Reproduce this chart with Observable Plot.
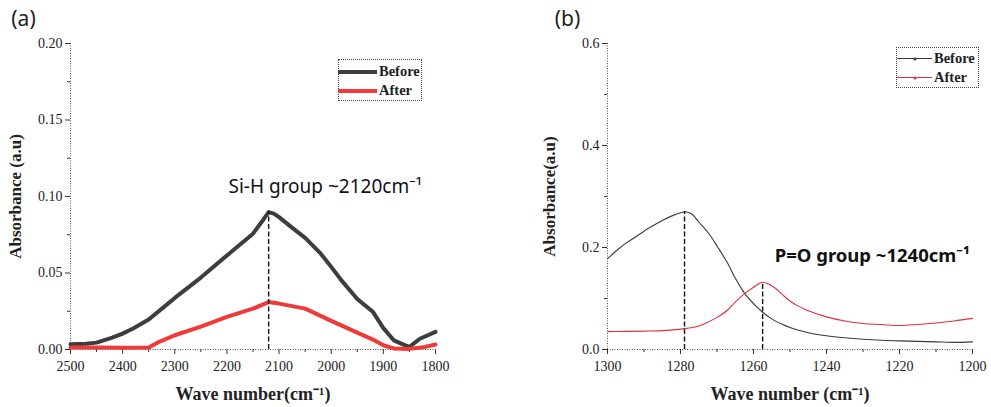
<!DOCTYPE html>
<html><head><meta charset="utf-8">
<script src="https://cdn.jsdelivr.net/npm/d3@7"></script>
<script src="https://cdn.jsdelivr.net/npm/@observablehq/plot@0.6"></script>
<style>
body{margin:0;background:#fff;}
#wrap{position:relative;width:991px;height:407px;overflow:hidden;background:#fff;}
#a{position:absolute;left:0;top:0;}
#b{position:absolute;left:495px;top:0;}
.legend{position:absolute;box-sizing:border-box;border:1px dotted #444;background:#fff;font-family:"Liberation Serif","Times New Roman",serif;font-weight:bold;color:#222;}
.row{position:absolute;left:0;height:19px;display:flex;align-items:center;white-space:nowrap;}
.sw{position:relative;flex:none;}
.dot{position:absolute;width:3px;height:3px;border-radius:50%;left:50%;top:50%;transform:translate(-50%,-50%);}
</style></head>
<body><div id="wrap"><div id="a"></div><div id="b"></div><div id="legA" class="legend"></div><div id="legB" class="legend"></div></div>
<script>
// ---------- Panel (a): Si-H region ----------
const waveA_before = [2500,2470,2450,2420,2400,2380,2350,2320,2300,2250,2200,2150,2130,2120,2110,2100,2080,2050,2020,2000,1980,1950,1920,1900,1880,1860,1850,1830,1800];
const absA_before  = [0.0035,0.0037,0.0045,0.0078,0.0104,0.0137,0.0196,0.028,0.0337,0.047,0.0615,0.0757,0.085,0.0898,0.0888,0.0865,0.081,0.073,0.0626,0.054,0.045,0.033,0.0246,0.014,0.006,0.003,0.0017,0.007,0.0115];
const waveA_after  = [2500,2450,2400,2350,2330,2300,2250,2200,2150,2120,2100,2050,2000,1950,1920,1900,1880,1850,1820,1800];
const absA_after   = [0.0013,0.0013,0.0012,0.0013,0.005,0.0093,0.015,0.0213,0.0267,0.031,0.030,0.0267,0.0187,0.011,0.0065,0.0028,0.0007,0.0004,0.0017,0.0033];
const xTicksA = [2500,2400,2300,2200,2100,2000,1900,1800];
const xMinorA = [2450,2350,2250,2150,2050,1950,1850];
const yTicksA = [0,0.05,0.10,0.15,0.20];
const yMinorA = [0.025,0.075,0.125,0.175];
const dropsA = [{x:2120, y:0.0898}];
const annotA = [{x:2197, y:0.106, text:"Si-H group ~2120cm⁻¹"}];

// ---------- Panel (b): P=O region ----------
const waveB_before = [1300,1297,1295,1292,1290,1287,1285,1282,1280,1279,1277,1275,1272,1270,1267,1265,1263,1262,1260,1257.5,1255,1252,1250,1245,1240,1235,1230,1225,1220,1210,1205,1200];
const absB_before  = [0.178,0.197,0.208,0.222,0.232,0.245,0.253,0.263,0.268,0.270,0.266,0.250,0.225,0.203,0.168,0.140,0.116,0.106,0.090,0.073,0.060,0.049,0.043,0.033,0.027,0.023,0.020,0.018,0.017,0.015,0.014,0.015];
const waveB_after  = [1300,1295,1290,1285,1280,1275,1273,1270,1267,1265,1262,1260,1258,1257.5,1256,1254,1252,1250,1248,1245,1240,1235,1230,1225,1220,1215,1210,1205,1200];
const absB_after   = [0.035,0.0355,0.036,0.037,0.040,0.046,0.052,0.063,0.078,0.093,0.112,0.122,0.131,0.132,0.129,0.120,0.107,0.095,0.086,0.076,0.064,0.056,0.051,0.049,0.047,0.049,0.052,0.056,0.061];
const xTicksB = [1300,1280,1260,1240,1220,1200];
const xMinorB = [1290,1270,1250,1230,1210];
const yTicksB = [0,0.2,0.4,0.6];
const yMinorB = [0.1,0.3,0.5];
const dropsB = [{x:1278.9, y:0.270},{x:1257.5, y:0.132}];
const annotB = [{x:1254.2, y:0.1824, text:"P=O group ~1240cm⁻¹"}];

const seriesNames = ["Before","After"];
const colorsA = ["#3d3d3d","#f03a3a"];
const colorsB = ["#3a3a3a","#e0303e"];

const serif = "'Liberation Serif', 'Times New Roman', serif";
const sans = "Noto Sans, sans-serif";

function zip(w, v){ return w.map((x,i)=>({x, y:v[i]})); }

function panel(o){
  const data = o.series;
  const ax = {label: null, stroke: "#333", tickFormat: () => ""};
  return Plot.plot({
    width: o.width, height: 407,
    marginLeft: o.marginLeft, marginRight: o.marginRight, marginTop: 43, marginBottom: 58,
    style: {background: "white", overflow: "visible"},
    x: {domain: o.xDomain},
    y: {domain: o.yDomain},
    marks: [
      Plot.ruleY([o.yDomain[0]], {stroke: "#555", strokeDasharray: "1,1.5"}),
      Plot.ruleX([o.xDomain[0]], {stroke: "#555", strokeDasharray: "1,1.5"}),
      // tick marks (outward), major and minor
      Plot.axisX({...ax, ticks: o.xMinor, tickSize: 3}),
      Plot.axisX({...ax, ticks: o.xTicks, tickSize: 5}),
      Plot.axisY({...ax, ticks: o.yMinor, tickSize: 3}),
      Plot.axisY({...ax, ticks: o.yTicks, tickSize: 5}),
      // tick labels in serif, placed by the scales
      Plot.text(o.xTicks, {x: d => d, text: d => String(d), frameAnchor: "bottom", dy: 17, textAnchor: "middle", lineAnchor: "middle", fontFamily: serif, fontSize: 14, fill: "#222"}),
      Plot.text(o.yTicks, {y: d => d, text: o.yFormat, frameAnchor: "left", dx: -8, textAnchor: "end", lineAnchor: "middle", fontFamily: serif, fontSize: 14, fill: "#222"}),
      ...data.map((s, i) => Plot.line(s, {x: "x", y: "y", stroke: o.colors[i], strokeWidth: o.sw, curve: o.curve})),
      Plot.ruleX(o.drops, {x: "x", y1: 0, y2: "y", stroke: "#111", strokeWidth: 1.4, strokeDasharray: "5,2.5"}),
      Plot.text(o.annot, {x: "x", y: "y", text: "text", textAnchor: "start", lineAnchor: "middle", fontFamily: sans, fontSize: o.annotSize, fontWeight: o.annotWeight, fill: "#111"}),
      Plot.text([o.xTitle], {text: d => d, frameAnchor: "bottom", dy: 45, textAnchor: "middle", lineAnchor: "middle", fontFamily: serif, fontWeight: "bold", fontSize: 18, fill: "#222"}),
      Plot.text([o.yTitle], {text: d => d, frameAnchor: "left", dx: o.yTitleDx, rotate: -90, textAnchor: "middle", lineAnchor: "middle", fontFamily: serif, fontWeight: "bold", fontSize: 17, fill: "#222"}),
      Plot.text([o.label], {text: d => d, frameAnchor: "top-left", dx: o.labelDx, dy: -24, textAnchor: "middle", lineAnchor: "middle", fontFamily: sans, fontSize: 21, fill: "#222"})
    ]
  });
}

document.getElementById("a").append(panel({
  width: 495, marginLeft: 70, marginRight: 60,
  xDomain: [2500, 1800], yDomain: [0, 0.2],
  xTicks: xTicksA, xMinor: xMinorA, yTicks: yTicksA, yMinor: yMinorA, yFormat: d3.format(".2f"),
  series: [zip(waveA_before, absA_before), zip(waveA_after, absA_after)],
  colors: colorsA, sw: 4, curve: "linear",
  drops: dropsA, annot: annotA, annotWeight: "normal", annotSize: 19,
  xTitle: "Wave number(cm⁻¹)", yTitle: "Absorbance (a.u)", yTitleDx: -55,
  label: "(a)", labelDx: -47
}));

document.getElementById("b").append(panel({
  width: 496, marginLeft: 112, marginRight: 19,
  xDomain: [1300, 1200], yDomain: [0, 0.6],
  xTicks: xTicksB, xMinor: xMinorB, yTicks: yTicksB, yMinor: yMinorB, yFormat: d3.format(".1f"),
  series: [zip(waveB_before, absB_before), zip(waveB_after, absB_after)],
  colors: colorsB, sw: 1.1, curve: "monotone-x",
  drops: dropsB, annot: annotB, annotWeight: "bold", annotSize: 18.5,
  xTitle: "Wave number (cm⁻¹)", yTitle: "Absorbance(a.u)", yTitleDx: -58,
  label: "(b)", labelDx: -40
}));

// ---------- Legends ----------
function legend(id, box, rows, colors, lineW, lineLen, lineLeft, dots, fontSize){
  const el = document.getElementById(id);
  Object.assign(el.style, {left: box[0]+"px", top: box[1]+"px", width: box[2]+"px", height: box[3]+"px", fontSize: fontSize+"px"});
  seriesNames.forEach((n, i) => {
    const r = document.createElement("div");
    r.className = "row";
    r.style.top = (rows[i] - 9.5) + "px";
    const sw = document.createElement("div");
    sw.className = "sw";
    Object.assign(sw.style, {width: lineLen+"px", height: lineW+"px", background: colors[i], marginLeft: lineLeft+"px", marginRight: "2px"});
    if (dots) { const d = document.createElement("div"); d.className = "dot"; d.style.background = colors[i]; sw.append(d); }
    const t = document.createElement("span");
    t.textContent = n;
    r.append(sw, t);
    el.append(r);
  });
}
legend("legA", [338, 59, 84, 42], [11.5, 30.5], colorsA, 4, 39, -1, false, 14.5);
legend("legB", [896, 47, 83, 41], [10.5, 29.5], colorsB, 1, 35, 0, true, 14.5);
</script>
</body></html>
